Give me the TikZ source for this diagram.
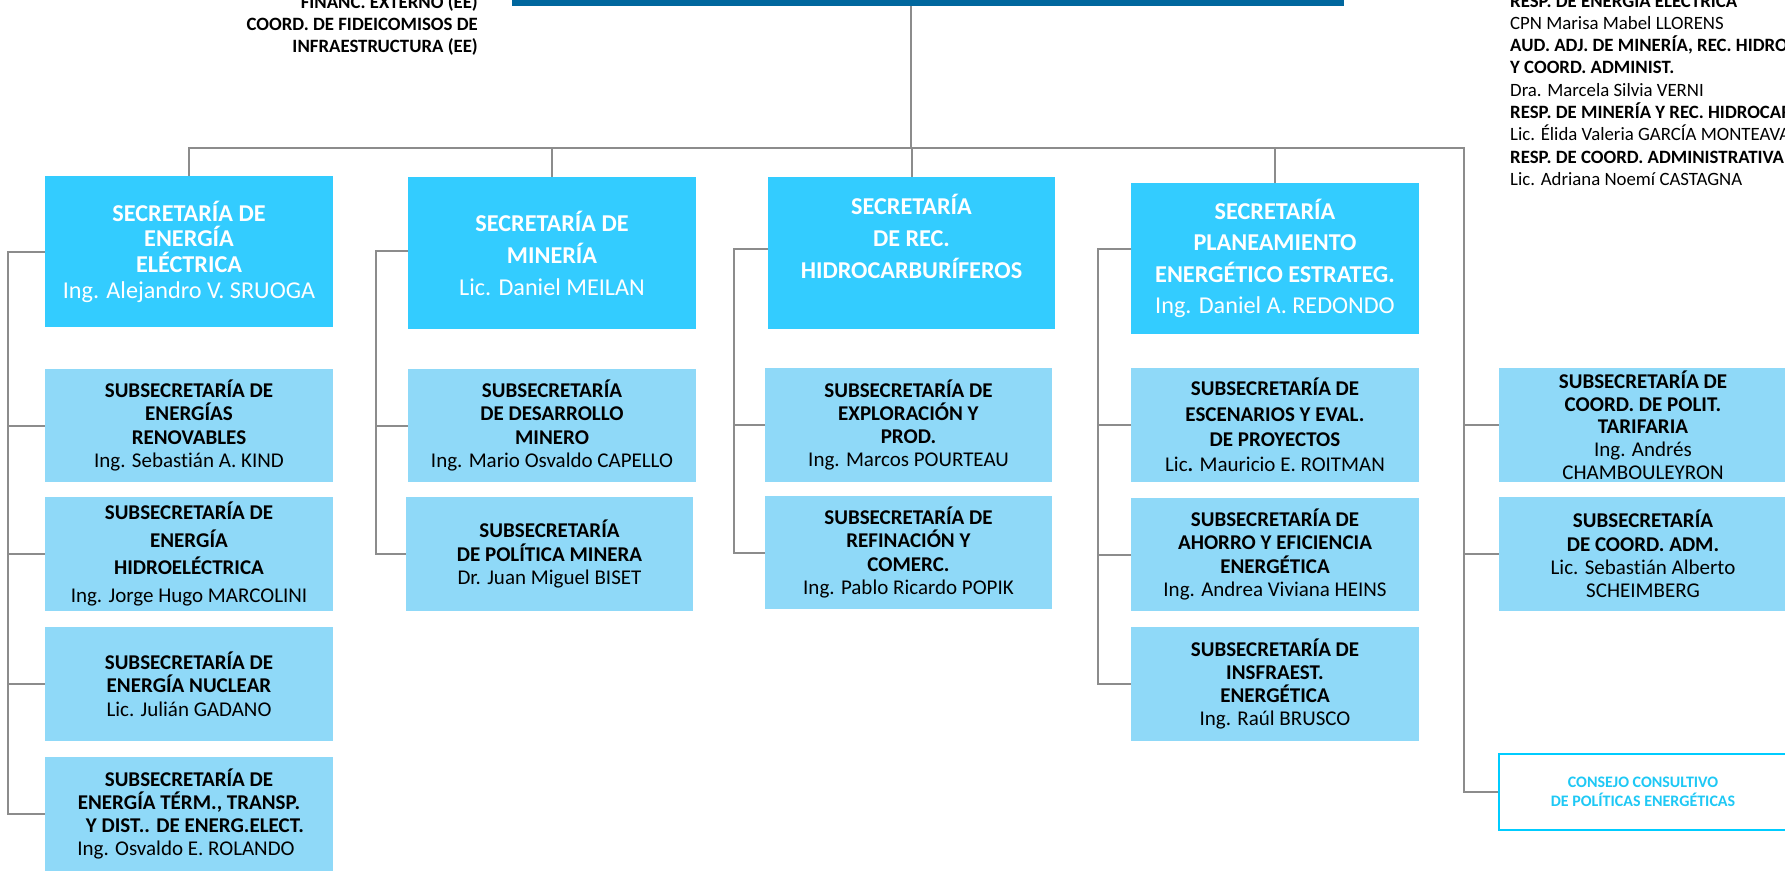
\documentclass[tikz,border=0pt]{standalone}
\usepackage{fontspec}
\setmainfont{Carlito}[Ligatures={NoCommon}]
\definecolor{secblue}{RGB}{51,204,255}
\definecolor{subblue}{RGB}{143,217,248}
\definecolor{barblue}{RGB}{0,103,158}
\definecolor{linegray}{RGB}{140,140,140}
\definecolor{cyanline}{RGB}{0,204,255}
\definecolor{cyantext}{RGB}{30,200,245}
\tikzset{
  conn/.style={draw=linegray, line width=2pt},
  secbox/.style={fill=secblue, text=white, minimum width=288, minimum height=151,
    align=center, inner sep=0pt, font={\fontsize{24.2}{25.7}\selectfont}},
  subbox/.style={fill=subblue, text=black, minimum width=288, minimum height=113,
    align=center, inner sep=0pt, font={\fontsize{21}{23.3}\selectfont}},
  consbox/.style={draw=cyanline, line width=2.5pt, fill=white, text=cyantext,
    minimum width=288, minimum height=76, align=center, inner sep=0pt,
    font={\fontsize{16}{18.7}\selectfont\bfseries}},
  sidetext/.style={inner sep=0pt, font={\fontsize{18.8}{22}\selectfont}},
}
\begin{document}
\begin{tikzpicture}[x=1pt,y=-1pt]
\clip (0,0) rectangle (1785,871);

% top bar (cut-off head box)
\node[fill=barblue, minimum width=832, minimum height=40, inner sep=0pt] (top) at (928,-14) {};

% side texts, top left
\node[sidetext, anchor=base east] (tl1) at (478,8.5) {\textbf{FINANC. EXTERNO (EE)}};
\node[sidetext, anchor=base east] (tl2) at (478,30.5) {\textbf{COORD. DE FIDEICOMISOS DE}};
\node[sidetext, anchor=base east] (tl3) at (478,52.5) {\textbf{INFRAESTRUCTURA (EE)}};

% side texts, top right
\node[sidetext, anchor=base west] (tr1) at (1510,7) {\textbf{RESP. DE ENERGÍA ELÉCTRICA}};
\node[sidetext, anchor=base west] (tr2) at (1510,29.3) {CPN Marisa Mabel LLORENS};
\node[sidetext, anchor=base west] (tr3) at (1510,51.6) {\textbf{AUD. ADJ. DE MINERÍA, REC. HIDRO}};
\node[sidetext, anchor=base west] (tr4) at (1510,73.9) {\textbf{Y COORD. ADMINIST.}};
\node[sidetext, anchor=base west] (tr5) at (1510,96.2) {Dra. Marcela Silvia VERNI};
\node[sidetext, anchor=base west] (tr6) at (1510,118.5) {\textbf{RESP. DE MINERÍA Y REC. HIDROCAR}};
\node[sidetext, anchor=base west] (tr7) at (1510,140.8) {Lic. Élida Valeria GARCÍA MONTEAVA};
\node[sidetext, anchor=base west] (tr8) at (1510,163.1) {\textbf{RESP. DE COORD. ADMINISTRATIVA}};
\node[sidetext, anchor=base west] (tr9) at (1510,185.4) {Lic. Adriana Noemí CASTAGNA};

% secretarias
\node[secbox] (s1) at (189,251.5)
  {\textbf{SECRETARÍA DE}\\\textbf{ENERGÍA}\\\textbf{ELÉCTRICA}\\Ing. Alejandro V. SRUOGA};
\node[secbox, minimum height=152, font={\fontsize{24.2}{32}\selectfont}] (s2) at (552,253)
  {\textbf{SECRETARÍA DE}\\\textbf{MINERÍA}\\Lic. Daniel MEILAN};
\node[secbox, minimum width=287, minimum height=152, font={\fontsize{24.2}{32}\selectfont}] (s3) at (911.5,253)
  {\textbf{SECRETARÍA}\\\textbf{DE REC.}\\\textbf{HIDROCARBURÍFEROS}\\[-8pt]\strut};
\node[secbox, font={\fontsize{24.2}{31.5}\selectfont}] (s4) at (1275,258.5)
  {\textbf{SECRETARÍA}\\\textbf{PLANEAMIENTO}\\\textbf{ENERGÉTICO ESTRATEG.}\\Ing. Daniel A. REDONDO};

% column 1
\node[subbox] (a1) at (189,425.5)
  {\textbf{SUBSECRETARÍA DE}\\\textbf{ENERGÍAS}\\\textbf{RENOVABLES}\\Ing. Sebastián A. KIND};
\node[subbox, minimum height=114, font={\fontsize{21}{27.8}\selectfont}] (a2) at (189,554)
  {\textbf{SUBSECRETARÍA DE}\\\textbf{ENERGÍA}\\\textbf{HIDROELÉCTRICA}\\Ing. Jorge Hugo MARCOLINI};
\node[subbox, minimum height=114] (a3) at (189,684)
  {\textbf{SUBSECRETARÍA DE}\\\textbf{ENERGÍA NUCLEAR}\\Lic. Julián GADANO};
\node[subbox, minimum height=114] (a4) at (189,814)
  {\textbf{SUBSECRETARÍA DE}\\\textbf{ENERGÍA TÉRM., TRANSP.}\\\hspace*{12pt}\textbf{Y DIST.. DE ENERG.ELECT.}\\Ing. Osvaldo E. ROLANDO\hspace*{6pt}};

% column 2
\node[subbox] (b1) at (552,425.5)
  {\textbf{SUBSECRETARÍA}\\\textbf{DE DESARROLLO}\\\textbf{MINERO}\\Ing. Mario Osvaldo CAPELLO};
\node[subbox, minimum width=287, minimum height=114] (b2) at (549.5,554)
  {\textbf{SUBSECRETARÍA}\\\textbf{DE POLÍTICA MINERA}\\Dr. Juan Miguel BISET};

% column 3
\node[subbox, minimum width=287, minimum height=114] (c1) at (908.5,425)
  {\textbf{SUBSECRETARÍA DE}\\\textbf{EXPLORACIÓN Y}\\\textbf{PROD.}\\Ing. Marcos POURTEAU};
\node[subbox, minimum width=287] (c2) at (908.5,552.5)
  {\textbf{SUBSECRETARÍA DE}\\\textbf{REFINACIÓN Y}\\\textbf{COMERC.}\\Ing. Pablo Ricardo POPIK};

% column 4
\node[subbox, minimum height=114, font={\fontsize{21}{25.4}\selectfont}] (d1) at (1275,425)
  {\textbf{SUBSECRETARÍA DE}\\\textbf{ESCENARIOS Y EVAL.}\\\textbf{DE PROYECTOS}\\Lic\textbf{.} Mauricio E. ROITMAN};
\node[subbox] (d2) at (1275,554.5)
  {\textbf{SUBSECRETARÍA DE}\\\textbf{AHORRO Y EFICIENCIA}\\\textbf{ENERGÉTICA}\\Ing. Andrea Viviana HEINS};
\node[subbox, minimum height=114] (d3) at (1275,684)
  {\textbf{SUBSECRETARÍA DE}\\\textbf{INSFRAEST.}\\\textbf{ENERGÉTICA}\\Ing. Raúl BRUSCO};

% column 5 (right)
\node[subbox, minimum height=114, font={\fontsize{21}{22.75}\selectfont}] (r1) at (1643,425)
  {\textbf{SUBSECRETARÍA DE}\\\textbf{COORD. DE POLIT.}\\\textbf{TARIFARIA}\\Ing. Andrés\\CHAMBOULEYRON};
\node[subbox, minimum height=114] (r2) at (1643,554)
  {\textbf{SUBSECRETARÍA}\\\textbf{DE COORD. ADM.}\\Lic. Sebastián Alberto\\SCHEIMBERG};
\node[consbox] (cc) at (1643,792)
  {CONSEJO CONSULTIVO\\DE POLÍTICAS ENERGÉTICAS};

% connectors
\coordinate (hub) at (911,148);
\coordinate (rc) at (1464,148);
\draw[conn] (hub |- top.south) -- (hub);
\draw[conn] (s1.north) |- (rc) -- (rc |- cc.west) -- (cc.west);
\draw[conn] (s2.north) -- (s2.north |- hub);
\draw[conn] (s3.north) -- (s3.north |- hub);
\draw[conn] (s4.north) -- (s4.north |- hub);
\draw[conn] (rc |- r1.west) -- (r1.west);
\draw[conn] (rc |- r2.west) -- (r2.west);

\coordinate (v1) at (8,0);
\draw[conn] (s1.west) -| (v1 |- a4.west) -- (a4.west);
\foreach \n in {a1,a2,a3} \draw[conn] (v1 |- \n.west) -- (\n.west);

\coordinate (v2) at (376,0);
\coordinate (j2) at (408,251);
\draw[conn] (j2) -| (v2 |- b2.west) -- (b2.west);
\draw[conn] (v2 |- b1.west) -- (b1.west);

\coordinate (v3) at (734,0);
\coordinate (j3) at (768,249);
\draw[conn] (j3) -| (v3 |- c2.west) -- (c2.west);
\draw[conn] (v3 |- c1.west) -- (c1.west);

\coordinate (v4) at (1098,0);
\coordinate (j4) at (1131,249);
\draw[conn] (j4) -| (v4 |- d3.west) -- (d3.west);
\foreach \n in {d1,d2} \draw[conn] (v4 |- \n.west) -- (\n.west);
\end{tikzpicture}
\end{document}
